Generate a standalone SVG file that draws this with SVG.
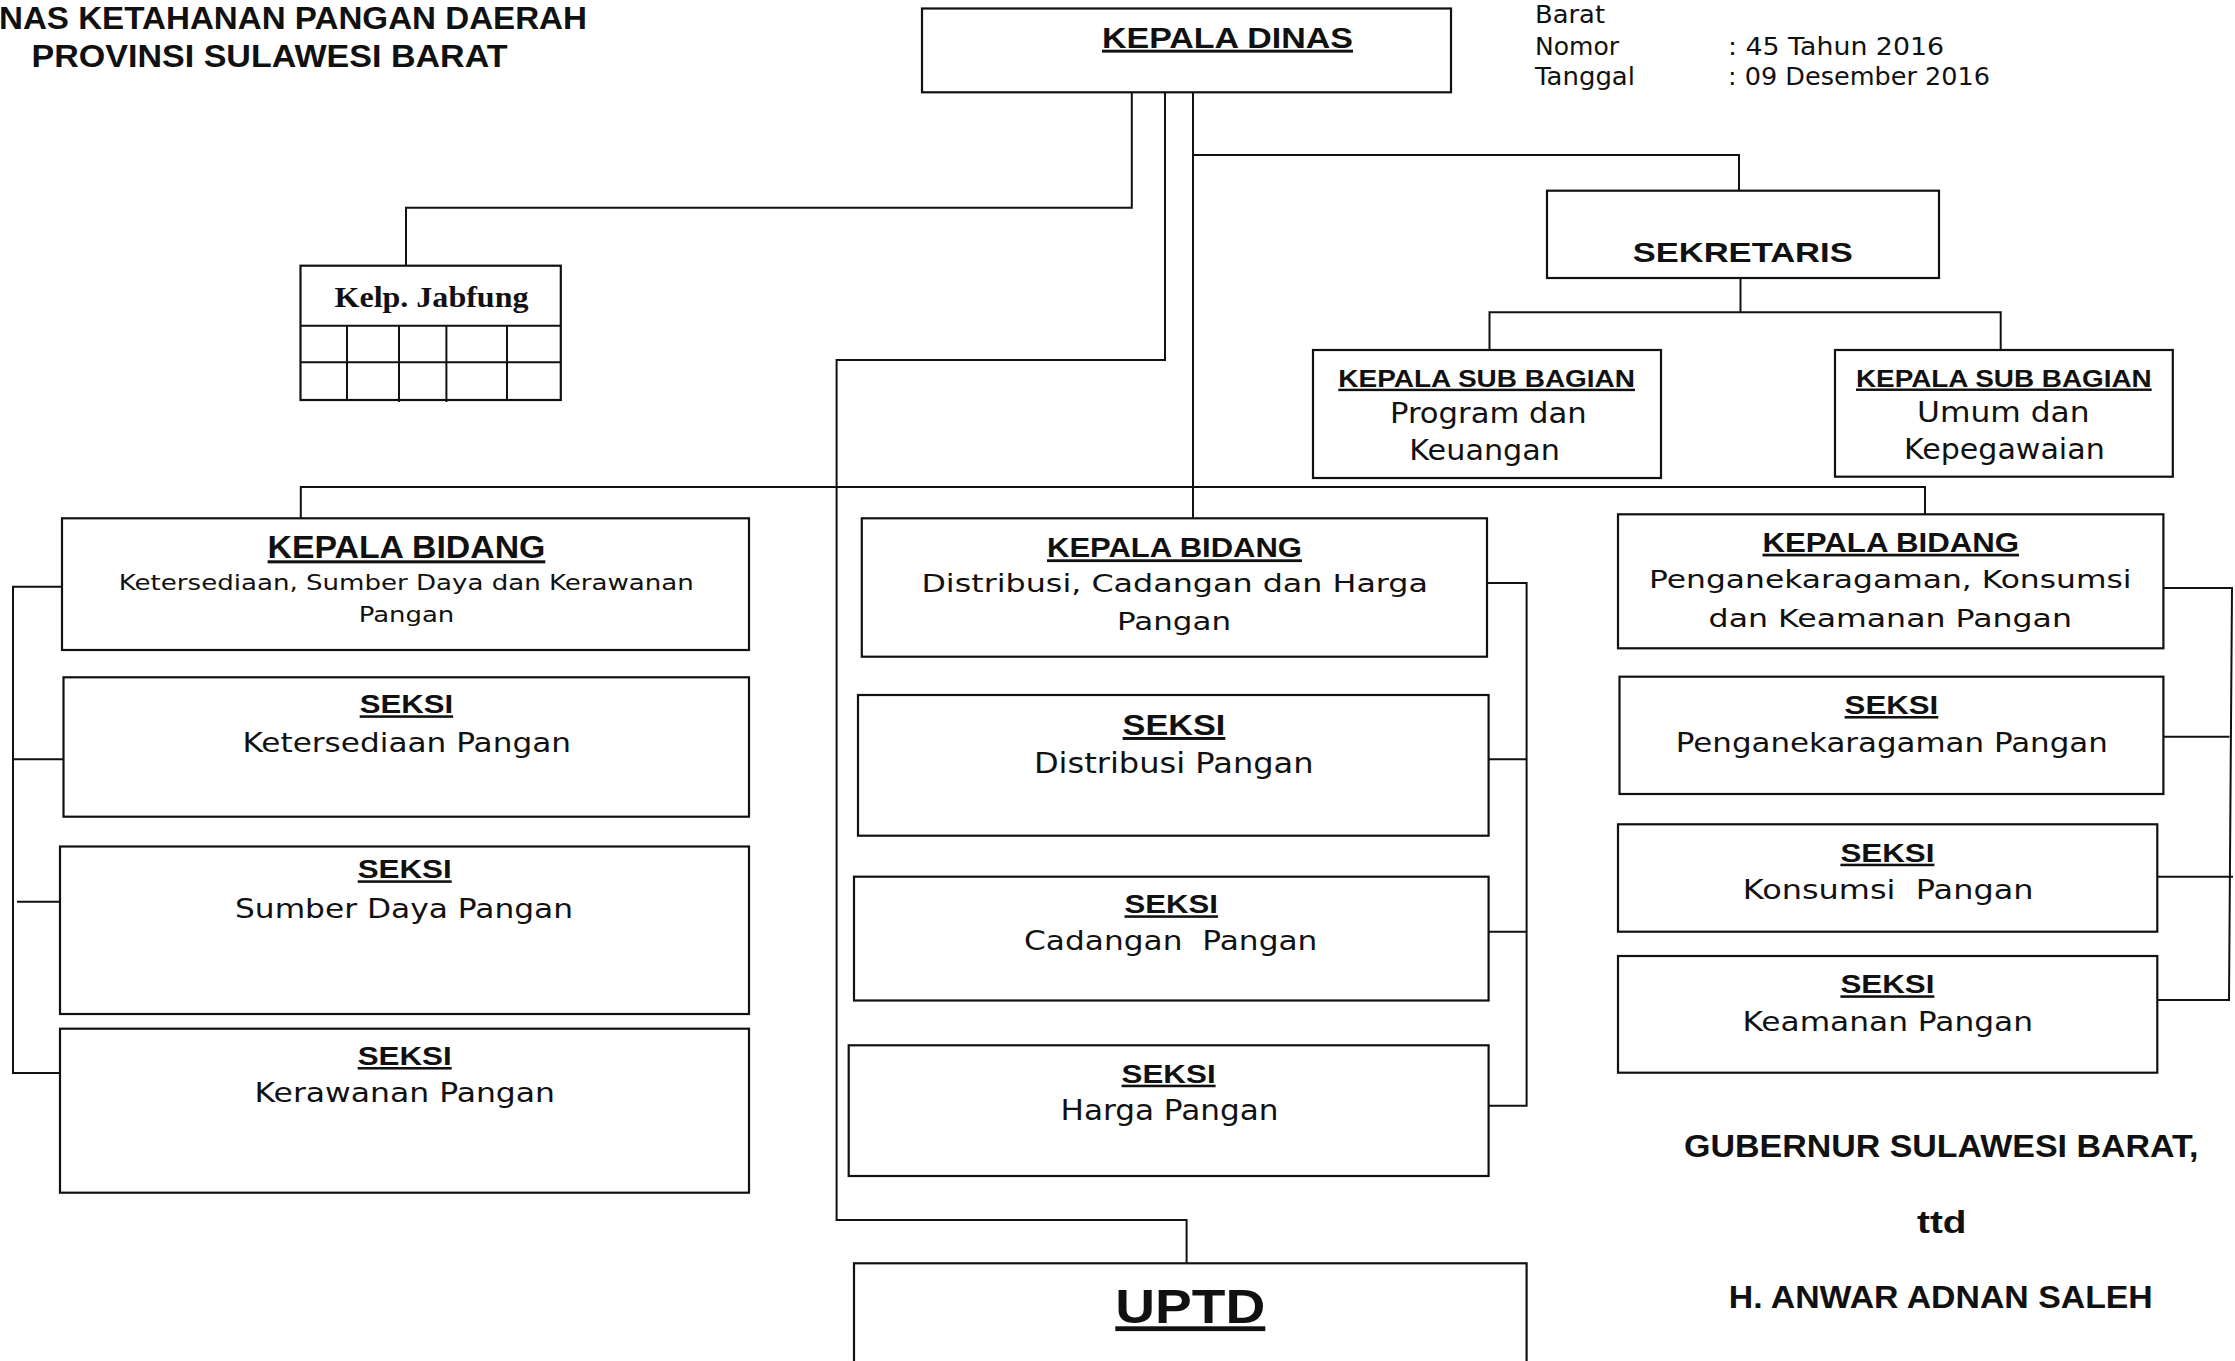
<svg xmlns="http://www.w3.org/2000/svg" width="2235" height="1361" viewBox="0 0 2235 1361">
<style>
.box{fill:#fff;stroke:#111;stroke-width:2.2}
.ln{fill:none;stroke:#111;stroke-width:2}
text{font-family:"DejaVu Sans","Liberation Sans",sans-serif;fill:#111}
.b{font-family:"Liberation Sans",Arial,sans-serif;font-weight:bold}
.u{text-decoration:underline}
.serif{font-family:"Liberation Serif","Times New Roman",serif;font-weight:bold}
</style>
<rect x="0" y="0" width="2235" height="1361" fill="#fff"/>

<g id="connectors">
<path class="ln" d="M1131.8,92.3 V207.7 H406 V265.7"/>
<path class="ln" d="M1165,92.3 V360 H836.6 V1220 H1186.6 V1263.3"/>
<path class="ln" d="M1193,92.3 V518.3"/>
<path class="ln" d="M1193,155 H1739 V190.7"/>
<path class="ln" d="M1740.5,278 V312.3"/>
<path class="ln" d="M1489.5,350 V312.3 H2000.7 V350"/>
<path class="ln" d="M300.8,518.3 V487 H1925 V514.3"/>
<path class="ln" d="M62,586.7 H13 V1073 H60"/>
<path class="ln" d="M13,759.3 H63.5"/>
<path class="ln" d="M17,901.7 H60"/>
<path class="ln" d="M1487,583 H1526.6 V1105.7 H1488.6"/>
<path class="ln" d="M1488.6,759.3 H1526.6"/>
<path class="ln" d="M1488.6,931.7 H1526.6"/>
<path class="ln" d="M2163.4,588 H2232 L2229,1000 H2157.3"/>
<path class="ln" d="M2163.4,736.7 H2229.5"/>
<path class="ln" d="M2157.3,876.7 H2233"/>
</g>

<g id="header">
<text class="b" x="-1" y="29" font-size="31" textLength="588" lengthAdjust="spacingAndGlyphs">NAS KETAHANAN PANGAN DAERAH</text>
<text class="b" x="31.5" y="67" font-size="31" textLength="476" lengthAdjust="spacingAndGlyphs">PROVINSI SULAWESI BARAT</text>
<text x="1535" y="23" font-size="25" textLength="70" lengthAdjust="spacingAndGlyphs">Barat</text>
<text x="1535" y="55" font-size="25" textLength="84" lengthAdjust="spacingAndGlyphs">Nomor</text>
<text x="1535" y="85" font-size="25" textLength="100" lengthAdjust="spacingAndGlyphs">Tanggal</text>
<text x="1728" y="55" font-size="25" textLength="216" lengthAdjust="spacingAndGlyphs">: 45 Tahun 2016</text>
<text x="1728" y="85" font-size="25" textLength="262" lengthAdjust="spacingAndGlyphs">: 09 Desember 2016</text>
</g>

<g id="kepala-dinas">
<rect class="box" x="922" y="8.5" width="529" height="83.8"/>
<text class="b u" x="1102" y="47.7" font-size="29.5" textLength="251" lengthAdjust="spacingAndGlyphs">KEPALA DINAS</text>
</g>

<g id="kelp-jabfung">
<rect class="box" x="300.5" y="265.7" width="260.3" height="134.3"/>
<path class="ln" d="M300.5,325.7 H560.8 M300.5,362.3 H560.8 M347,325.7 V400 M399,325.7 V402 M446.4,325.7 V402 M507,325.7 V400"/>
<text class="serif" x="334.5" y="306.7" font-size="30" textLength="194" lengthAdjust="spacingAndGlyphs">Kelp. Jabfung</text>
</g>

<g id="sekretaris">
<rect class="box" x="1547" y="190.7" width="392" height="87.3"/>
<text class="b" x="1632.7" y="262" font-size="28.5" textLength="220" lengthAdjust="spacingAndGlyphs">SEKRETARIS</text>
</g>

<g id="kasubag-program-keuangan">
<rect class="box" x="1313" y="350" width="348" height="128"/>
<text class="b u" x="1338.3" y="386.7" font-size="24.5" textLength="296.7" lengthAdjust="spacingAndGlyphs">KEPALA SUB BAGIAN</text>
<text x="1390" y="423.3" font-size="27.5" textLength="196.7" lengthAdjust="spacingAndGlyphs">Program dan</text>
<text x="1409.3" y="460" font-size="27.5" textLength="150.7" lengthAdjust="spacingAndGlyphs">Keuangan</text>
</g>

<g id="kasubag-umum-kepegawaian">
<rect class="box" x="1835" y="350" width="337.8" height="126.7"/>
<text class="b u" x="1856" y="386.5" font-size="24.5" textLength="295.7" lengthAdjust="spacingAndGlyphs">KEPALA SUB BAGIAN</text>
<text x="1917" y="422" font-size="27.5" textLength="172.5" lengthAdjust="spacingAndGlyphs">Umum dan</text>
<text x="1904" y="458.5" font-size="27.5" textLength="200.7" lengthAdjust="spacingAndGlyphs">Kepegawaian</text>
</g>

<g id="kabid-ketersediaan">
<rect class="box" x="62" y="518.3" width="687" height="131.7"/>
<text class="b u" x="267.6" y="558.3" font-size="30.5" textLength="277.7" lengthAdjust="spacingAndGlyphs">KEPALA BIDANG</text>
<text x="118.8" y="590" font-size="21" textLength="575" lengthAdjust="spacingAndGlyphs">Ketersediaan, Sumber Daya dan Kerawanan</text>
<text x="358.7" y="621.7" font-size="21" textLength="95.5" lengthAdjust="spacingAndGlyphs">Pangan</text>
</g>

<g id="seksi-ketersediaan">
<rect class="box" x="63.5" y="677.3" width="685.5" height="139.4"/>
<text class="b u" x="359.7" y="713.3" font-size="25.5" textLength="93.5" lengthAdjust="spacingAndGlyphs">SEKSI</text>
<text x="242.4" y="751.7" font-size="26.5" textLength="328.6" lengthAdjust="spacingAndGlyphs">Ketersediaan Pangan</text>
</g>

<g id="seksi-sumber-daya">
<rect class="box" x="60" y="846.5" width="689" height="167.5"/>
<text class="b u" x="357.7" y="878.3" font-size="25.5" textLength="94" lengthAdjust="spacingAndGlyphs">SEKSI</text>
<text x="235" y="918.3" font-size="26.5" textLength="338" lengthAdjust="spacingAndGlyphs">Sumber Daya Pangan</text>
</g>

<g id="seksi-kerawanan">
<rect class="box" x="60" y="1028.7" width="689" height="164"/>
<text class="b u" x="357.7" y="1065" font-size="25.5" textLength="94" lengthAdjust="spacingAndGlyphs">SEKSI</text>
<text x="254.5" y="1101.7" font-size="26.5" textLength="300.5" lengthAdjust="spacingAndGlyphs">Kerawanan Pangan</text>
</g>

<g id="kabid-distribusi">
<rect class="box" x="861.8" y="518.3" width="625.2" height="138.4"/>
<text class="b u" x="1047" y="557.3" font-size="28" textLength="255" lengthAdjust="spacingAndGlyphs">KEPALA BIDANG</text>
<text x="921.4" y="591.7" font-size="25" textLength="506.6" lengthAdjust="spacingAndGlyphs">Distribusi, Cadangan dan Harga</text>
<text x="1117" y="630" font-size="25" textLength="114" lengthAdjust="spacingAndGlyphs">Pangan</text>
</g>

<g id="seksi-distribusi">
<rect class="box" x="858" y="695" width="630.6" height="140.7"/>
<text class="b u" x="1122.6" y="735" font-size="29.5" textLength="102.7" lengthAdjust="spacingAndGlyphs">SEKSI</text>
<text x="1033.9" y="772.7" font-size="28.5" textLength="279.7" lengthAdjust="spacingAndGlyphs">Distribusi Pangan</text>
</g>

<g id="seksi-cadangan">
<rect class="box" x="854" y="876.7" width="634.6" height="123.8"/>
<text class="b u" x="1124.5" y="913.3" font-size="25.5" textLength="93.5" lengthAdjust="spacingAndGlyphs">SEKSI</text>
<text x="1024" y="950" font-size="27" textLength="293.4" lengthAdjust="spacingAndGlyphs" xml:space="preserve">Cadangan  Pangan</text>
</g>

<g id="seksi-harga">
<rect class="box" x="848.7" y="1045.3" width="639.9" height="130.7"/>
<text class="b u" x="1121.6" y="1082.7" font-size="25.5" textLength="94" lengthAdjust="spacingAndGlyphs">SEKSI</text>
<text x="1060.5" y="1120" font-size="27.5" textLength="218" lengthAdjust="spacingAndGlyphs">Harga Pangan</text>
</g>

<g id="uptd">
<rect class="box" x="854" y="1263.3" width="672.6" height="160"/>
<text class="b u" x="1115.3" y="1323.3" font-size="48" textLength="150" lengthAdjust="spacingAndGlyphs">UPTD</text>
</g>

<g id="kabid-penganekaragaman">
<rect class="box" x="1618" y="514.3" width="545.4" height="134"/>
<text class="b u" x="1762.5" y="551.7" font-size="27.5" textLength="256.5" lengthAdjust="spacingAndGlyphs">KEPALA BIDANG</text>
<text x="1649" y="588.3" font-size="25" textLength="482.5" lengthAdjust="spacingAndGlyphs">Penganekaragaman, Konsumsi</text>
<text x="1708.6" y="626.7" font-size="25" textLength="363.4" lengthAdjust="spacingAndGlyphs">dan Keamanan Pangan</text>
</g>

<g id="seksi-penganekaragaman">
<rect class="box" x="1619.5" y="676.7" width="543.9" height="117.3"/>
<text class="b u" x="1844.6" y="714" font-size="25.5" textLength="93.7" lengthAdjust="spacingAndGlyphs">SEKSI</text>
<text x="1675.8" y="751.7" font-size="26.5" textLength="432" lengthAdjust="spacingAndGlyphs">Penganekaragaman Pangan</text>
</g>

<g id="seksi-konsumsi">
<rect class="box" x="1618" y="824.3" width="539.3" height="107.4"/>
<text class="b u" x="1840.4" y="861.7" font-size="25.5" textLength="94" lengthAdjust="spacingAndGlyphs">SEKSI</text>
<text x="1742.8" y="899.3" font-size="26.5" textLength="290.7" lengthAdjust="spacingAndGlyphs" xml:space="preserve">Konsumsi  Pangan</text>
</g>

<g id="seksi-keamanan">
<rect class="box" x="1618" y="956" width="539.3" height="116.7"/>
<text class="b u" x="1840.4" y="993.3" font-size="25.5" textLength="94" lengthAdjust="spacingAndGlyphs">SEKSI</text>
<text x="1742.4" y="1030.7" font-size="26.5" textLength="290.6" lengthAdjust="spacingAndGlyphs">Keamanan Pangan</text>
</g>

<g id="signature">
<text class="b" x="1684" y="1157.3" font-size="30.5" textLength="514.5" lengthAdjust="spacingAndGlyphs">GUBERNUR SULAWESI BARAT,</text>
<text class="b" x="1917" y="1233.3" font-size="30.5" textLength="49.5" lengthAdjust="spacingAndGlyphs">ttd</text>
<text class="b" x="1728.8" y="1308.3" font-size="30.5" textLength="424" lengthAdjust="spacingAndGlyphs">H. ANWAR ADNAN SALEH</text>
</g>
</svg>
